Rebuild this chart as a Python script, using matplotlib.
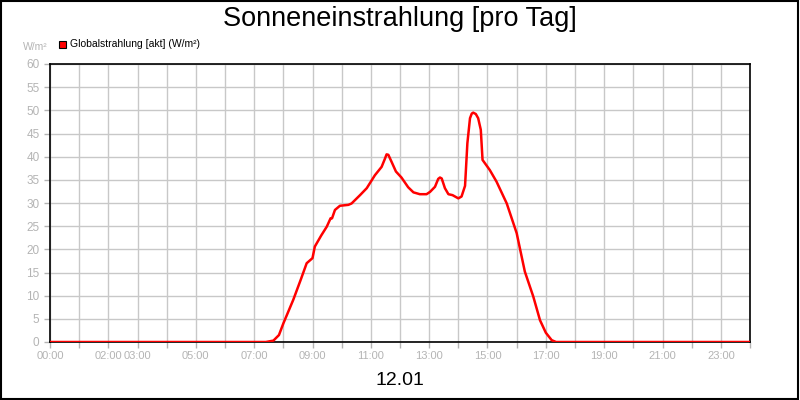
import matplotlib
matplotlib.use("Agg")
import matplotlib.pyplot as plt
from matplotlib.patches import Rectangle

plt.rcParams["font.family"] = ["Liberation Sans", "DejaVu Sans"]

# hour of day vs. global radiation (W/m²)
hours = [0.0, 7.4, 7.66, 7.85, 8.0, 8.34, 8.6, 8.8, 9.0, 9.08, 9.3, 9.49, 9.62, 9.67,
         9.77, 9.94, 10.23, 10.34, 10.63, 10.86, 11.14, 11.37, 11.48, 11.54, 11.6, 11.71,
         11.86, 12.05, 12.28, 12.46, 12.68, 12.91, 13.03, 13.2, 13.31, 13.37, 13.43, 13.54,
         13.66, 13.8, 14.0, 14.11, 14.23, 14.31, 14.4, 14.46, 14.51, 14.6, 14.68, 14.77, 14.83,
         15.08, 15.31, 15.66, 16.0, 16.28, 16.57, 16.8, 17.0, 17.2, 17.35, 24.0]
radiation = [0.0, 0.0, 0.3, 1.5, 4.0, 9.1, 13.5, 17.0, 18.1, 20.6, 23.0, 24.9, 26.7, 26.7,
             28.5, 29.4, 29.6, 29.9, 31.7, 33.2, 36.0, 37.8, 39.5, 40.5, 40.4, 38.9,
             36.8, 35.5, 33.4, 32.3, 31.9, 31.9, 32.4, 33.5, 35.2, 35.5, 35.3, 33.2,
             31.9, 31.7, 31.0, 31.4, 33.7, 42.9, 48.3, 49.3, 49.5, 49.2, 48.3, 45.8, 39.3,
             37.1, 34.6, 29.9, 23.5, 15.2, 9.8, 4.7, 2.0, 0.4, 0.0, 0.0]

tick_hours = [0, 2, 3, 5, 7, 9, 11, 13, 15, 17, 19, 21, 23]
tick_labels = ["00:00", "02:00", "03:00", "05:00", "07:00", "09:00", "11:00",
               "13:00", "15:00", "17:00", "19:00", "21:00", "23:00"]
y_ticks = list(range(0, 61, 5))

grey = "#b4b4b4"
fig = plt.figure(figsize=(8, 4), dpi=100)
fig.patches.append(Rectangle((0.001, 0.002), 0.997, 0.995, transform=fig.transFigure,
                             fill=False, edgecolor="black", lw=1.5))

ax = fig.add_axes([50 / 800, 58 / 400, 700 / 800, 278 / 400])
ax.plot(hours, radiation, color="#ff0000", lw=1.8, zorder=3, solid_joinstyle="round")
ax.set_xlim(0, 24)
ax.set_ylim(0, 60)
ax.set_xticks(range(0, 25))
ax.set_xticklabels([""] * 25)
for h, lab in zip(tick_hours, tick_labels):
    ax.text(h, -1.9, lab, ha="center", va="top", color=grey, fontsize=8)
ax.set_yticks(y_ticks)
ax.set_yticklabels([str(v) for v in y_ticks], color=grey, fontsize=8.5)
ax.tick_params(axis="both", length=4, color=grey, width=1)
ax.tick_params(axis="x", pad=2)
ax.grid(True, color="#c8c8c8", lw=1)
ax.set_axisbelow(True)
for s in ax.spines.values():
    s.set_color("black")
    s.set_linewidth(1.2)

fig.text(0.5, 0.952, "Sonneneinstrahlung [pro Tag]", ha="center", va="center", fontsize=19.5)
fig.text(0.5, 0.048, "12.01", ha="center", va="center", fontsize=14)
fig.text(48 / 800, 1 - 47 / 400, "W/m²", ha="right", va="center", color=grey, fontsize=7.5)
fig.patches.append(Rectangle((59 / 800, 1 - 48 / 400), 7 / 800, 7 / 400,
                             transform=fig.transFigure, facecolor="#ff0000",
                             edgecolor="black", lw=0.8))
fig.text(70 / 800, 1 - 44 / 400, "Globalstrahlung [akt] (W/m²)", ha="left", va="center",
         color="black", fontsize=7.5)

fig.savefig("out.png", dpi=100)
